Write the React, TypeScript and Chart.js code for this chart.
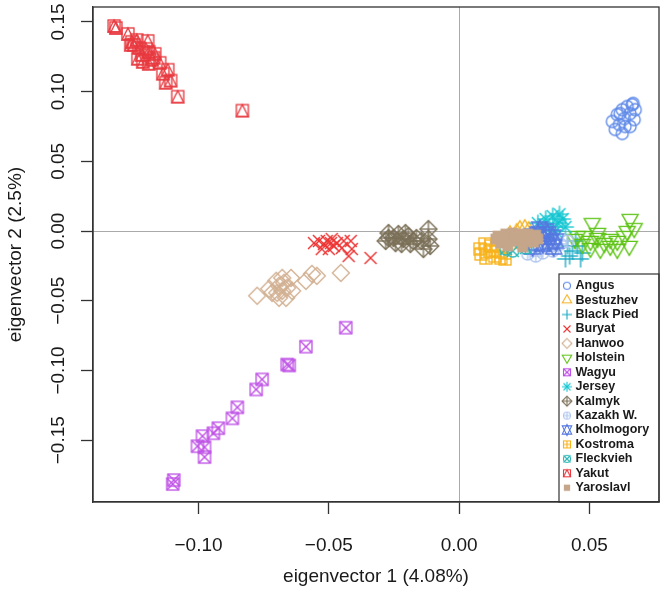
import React, { useEffect, useRef } from 'react';
import { Chart, registerables } from 'chart.js';

Chart.register(...registerables);

const FONT = '"Liberation Sans", Arial, Helvetica, sans-serif';

const breeds = ['Angus', 'Bestuzhev', 'Black Pied', 'Buryat', 'Hanwoo', 'Holstein', 'Wagyu', 'Jersey', 'Kalmyk', 'Kazakh W.', 'Kholmogory', 'Kostroma', 'Fleckvieh', 'Yakut', 'Yaroslavl'];
const breedColors = ['#5f8ae8', '#f5b324', '#1aa9c4', '#ee3535', '#d2b092', '#5ec415', '#bf52e6', '#12c6d1', '#7b7058', '#b0c6ef', '#5578e0', '#f8b31c', '#2db7b7', '#e83a40', '#c6a68a'];
const breedPch = [1, 2, 3, 4, 5, 6, 7, 8, 9, 10, 11, 12, 13, 14, 15];

const xTicks = [-0.1, -0.05, 0, 0.05];
const yTicks = [-0.15, -0.1, -0.05, 0, 0.05, 0.1, 0.15];
const xRange = [-0.1405, 0.0767];
const yRange = [-0.1943, 0.1607];
const xTitle = 'eigenvector 1 (4.08%)';
const yTitle = 'eigenvector 2 (2.5%)';

const angus = [[0.0588, 0.0786], [0.0607, 0.0836], [0.0626, 0.0871], [0.0645, 0.0893], [0.0664, 0.0907], [0.0656, 0.0843], [0.0634, 0.0807], [0.0615, 0.0764], [0.0599, 0.0729], [0.0626, 0.07], [0.0656, 0.075], [0.0672, 0.08], [0.0676, 0.0871], [0.0637, 0.075], [0.0618, 0.0843], [0.0668, 0.0915]];
const bestuzhev = [[0.0233, 0.0007], [0.0252, 0.0014], [0.0221, -0.0014], [0.0267, 0.0], [0.021, -0.005], [0.028, -0.006], [0.0245, -0.009], [0.0195, -0.003]];
const blackPied = [[0.0416, -0.0107], [0.0435, -0.0143], [0.0454, -0.0107], [0.0424, -0.0179], [0.0473, -0.0157], [0.0447, -0.0071], [0.0408, -0.02], [0.0466, -0.02]];
const buryat = [[-0.0557, -0.0086], [-0.0538, -0.0071], [-0.0519, -0.0093], [-0.0508, -0.0071], [-0.0492, -0.0086], [-0.0481, -0.0107], [-0.0469, -0.0086], [-0.05, -0.0129], [-0.0527, -0.0129], [-0.0443, -0.0071], [-0.0416, -0.0071], [-0.0412, -0.0129], [-0.0424, -0.0179], [-0.045, -0.0121], [-0.0489, -0.0057], [-0.034, -0.0193]];
const hanwoo = [[-0.0775, -0.0464], [-0.0729, -0.0414], [-0.0702, -0.0357], [-0.0691, -0.0393], [-0.0679, -0.0429], [-0.066, -0.0407], [-0.0645, -0.0336], [-0.0664, -0.0479], [-0.0691, -0.0479], [-0.0698, -0.0443], [-0.0672, -0.0371], [-0.0588, -0.0357], [-0.0565, -0.0307], [-0.0546, -0.0321], [-0.0454, -0.03], [-0.0718, -0.0443], [-0.0641, -0.0429], [-0.0679, -0.0336]];
const holstein = [[0.0511, 0.0057], [0.0656, 0.0086], [0.0672, 0.0021], [0.0645, 0.0], [0.0634, -0.0036], [0.0607, -0.0071], [0.0653, -0.0107], [0.0607, -0.0129], [0.0557, -0.0086], [0.058, -0.0057], [0.0531, -0.005], [0.0504, -0.0071], [0.0481, -0.0036], [0.0454, -0.0036], [0.0443, -0.0057], [0.0504, -0.0121], [0.0542, -0.0129], [0.058, -0.0107], [0.0473, -0.0093], [0.0531, -0.0014]];
const wagyu = [[-0.1095, -0.1786], [-0.1099, -0.1814], [-0.066, -0.0957], [-0.0652, -0.0964], [-0.0756, -0.1064], [-0.0779, -0.1136], [-0.0851, -0.1264], [-0.087, -0.1343], [-0.0924, -0.1414], [-0.0943, -0.145], [-0.0985, -0.1471], [-0.1004, -0.1543], [-0.0977, -0.155], [-0.0977, -0.1621], [-0.0435, -0.0693], [-0.0588, -0.0829]];
const jersey = [[0.0302, 0.0057], [0.0332, 0.0086], [0.0359, 0.0107], [0.0378, 0.0057], [0.0397, 0.0086], [0.0347, 0.0036], [0.0321, 0.0014], [0.0408, 0.0029], [0.037, 0.0], [0.0385, 0.0121]];
const kalmyk = [[-0.0271, -0.0014], [-0.0252, -0.005], [-0.0233, -0.0021], [-0.0214, -0.0057], [-0.0195, -0.0036], [-0.0176, -0.0071], [-0.0282, -0.0071], [-0.0244, -0.0086], [-0.0221, -0.0093], [-0.0187, -0.0093], [-0.0164, -0.005], [-0.0145, -0.0071], [-0.0118, 0.0014], [-0.0118, -0.0057], [-0.0111, -0.0107], [-0.0137, -0.0129], [-0.0271, -0.005], [-0.0206, -0.0014]];
const kazakhW = [[0.0263, -0.0164], [0.0294, -0.0179], [0.0321, -0.0157], [0.0389, -0.0093], [0.0416, -0.0071], [0.0359, -0.0143]];
const kholmogory = [[0.0282, -0.0036], [0.0302, -0.0021], [0.0321, -0.0043], [0.034, -0.0021], [0.0359, -0.0043], [0.0294, -0.0086], [0.0321, -0.0093], [0.0347, -0.0079], [0.037, -0.0071], [0.0309, 0.0014], [0.0332, 0.0], [0.0282, -0.0114], [0.0363, -0.0114]];
const kostroma = [[0.008, -0.0129], [0.0099, -0.0093], [0.0084, -0.0164], [0.0118, -0.0143], [0.0137, -0.0179], [0.016, -0.0193], [0.0122, -0.0107], [0.0149, -0.0143], [0.0103, -0.0193], [0.0176, -0.02]];
const fleckvieh = [[0.0179, -0.0129], [0.0256, -0.0121], [0.0206, -0.0143]];
const yakut = [[-0.1324, 0.1471], [-0.1317, 0.1457], [-0.1271, 0.1414], [-0.1256, 0.1357], [-0.126, 0.1336], [-0.1248, 0.1336], [-0.1237, 0.1371], [-0.1229, 0.1314], [-0.1195, 0.1364], [-0.1202, 0.1307], [-0.1191, 0.1286], [-0.1233, 0.1236], [-0.1218, 0.1264], [-0.1168, 0.1271], [-0.1179, 0.1229], [-0.1214, 0.1214], [-0.1191, 0.12], [-0.1149, 0.1207], [-0.1172, 0.1243], [-0.1137, 0.1129], [-0.1118, 0.1157], [-0.1126, 0.1064], [-0.1107, 0.1079], [-0.108, 0.0964], [-0.0832, 0.0864]];
const yaroslavl = [[0.0149, -0.0036], [0.0179, -0.0021], [0.0206, -0.0014], [0.0233, -0.0021], [0.0263, -0.0021], [0.0294, -0.0029], [0.016, -0.0086], [0.0195, -0.0071], [0.0225, -0.0071], [0.0256, -0.0071], [0.0286, -0.0079], [0.0141, -0.0057], [0.0187, -0.0107], [0.0244, -0.0114], [0.0302, -0.0057], [0.0218, -0.0043], [0.0172, -0.005], [0.0271, -0.005]];

const breedPoints = [angus, bestuzhev, blackPied, buryat, hanwoo, holstein, wagyu, jersey, kalmyk, kazakhW, kholmogory, kostroma, fleckvieh, yakut, yaroslavl];

function fmt(v: number): string {
  if (Math.abs(v) < 1e-9) return '0.00';
  return (v < 0 ? '\u2212' : '') + Math.abs(v).toFixed(2);
}

function makeSymbol(pch: number, color: string, R: number, lw: number): HTMLCanvasElement {
  const s = 2 * Math.ceil(R * 2 + 3);
  const c = document.createElement('canvas');
  c.width = s;
  c.height = s;
  const g = c.getContext('2d') as CanvasRenderingContext2D;
  g.translate(s / 2, s / 2);
  g.strokeStyle = color;
  g.fillStyle = color;
  g.lineWidth = lw;
  g.lineJoin = 'miter';
  const line = (x1: number, y1: number, x2: number, y2: number) => {
    g.beginPath();
    g.moveTo(x1, y1);
    g.lineTo(x2, y2);
    g.stroke();
  };
  const poly = (pts: number[][]) => {
    g.beginPath();
    g.moveTo(pts[0][0], pts[0][1]);
    for (let i = 1; i < pts.length; i++) g.lineTo(pts[i][0], pts[i][1]);
    g.closePath();
    g.stroke();
  };
  const circle = (r: number) => {
    g.beginPath();
    g.arc(0, 0, r, 0, Math.PI * 2);
    g.stroke();
  };
  const sq = (h: number) => g.strokeRect(-h, -h, 2 * h, 2 * h);
  const plus = (h: number) => {
    line(-h, 0, h, 0);
    line(0, -h, 0, h);
  };
  const times = (h: number) => {
    line(-h, -h, h, h);
    line(-h, h, h, -h);
  };
  const r = 1.5551203 * R;
  const yc = 0.77756015 * R;
  const xc = 1.34677368 * R;
  const s2 = Math.SQRT2 * R;
  switch (pch) {
    case 1: circle(R); break;
    case 2: poly([[0, -r], [xc, yc], [-xc, yc]]); break;
    case 3: plus(s2); break;
    case 4: times(R); break;
    case 5: poly([[0, -s2], [s2, 0], [0, s2], [-s2, 0]]); break;
    case 6: poly([[0, r], [xc, -yc], [-xc, -yc]]); break;
    case 7: sq(R); times(R); break;
    case 8: times(R); plus(s2); break;
    case 9: poly([[0, -s2], [s2, 0], [0, s2], [-s2, 0]]); plus(s2); break;
    case 10: circle(R); plus(R); break;
    case 11: {
      const y2 = 0.5 * (yc + r);
      poly([[0, -r], [xc, y2], [-xc, y2]]);
      poly([[0, r], [xc, -y2], [-xc, -y2]]);
      break;
    }
    case 12: sq(R); plus(R); break;
    case 13: circle(R); times(R); break;
    case 14: sq(R); poly([[0, -R], [R, R], [-R, R]]); break;
    case 15: g.fillRect(-R * 0.9, -R * 0.9, 1.8 * R, 1.8 * R); break;
  }
  return c;
}

export default function App() {
  const ref = useRef<HTMLCanvasElement>(null);

  useEffect(() => {
    const canvas = ref.current as HTMLCanvasElement;
    const plotSyms = breedPch.map((p, i) => makeSymbol(p, breedColors[i], 6, 1.35));
    const legSyms = breedPch.map((p, i) => makeSymbol(p, breedColors[i], 3.5, 1.1));

    const datasets = breeds.map((b, i) => ({
      label: b,
      data: breedPoints[i].map(([x, y]) => ({ x, y })),
      pointStyle: plotSyms[i],
      pointRadius: 6,
      pointHoverRadius: 6,
      order: breeds.length - i,
      showLine: false,
    }));

    const framePlugin = {
      id: 'frame',
      afterDatasetsDraw(chart: any) {
        const { ctx, chartArea: ca } = chart;
        ctx.save();
        ctx.strokeStyle = '#333';
        ctx.lineWidth = 1.3;
        ctx.strokeRect(ca.left, ca.top, ca.right - ca.left, ca.bottom - ca.top);
        ctx.restore();
      },
    };

    const yLabelPlugin = {
      id: 'yLabels',
      afterDraw(chart: any) {
        const { ctx } = chart;
        const sc = chart.scales.y;
        ctx.save();
        ctx.fillStyle = '#1a1a1a';
        ctx.font = `19px ${FONT}`;
        ctx.textAlign = 'center';
        ctx.textBaseline = 'middle';
        sc.ticks.forEach((t: any) => {
          const py = sc.getPixelForValue(t.value);
          ctx.save();
          ctx.translate(sc.right - 34, py);
          ctx.rotate(-Math.PI / 2);
          ctx.fillText(fmt(t.value), 0, 0);
          ctx.restore();
        });
        ctx.restore();
      },
    };

    const legendPlugin = {
      id: 'rLegend',
      afterDraw(chart: any) {
        const { ctx, chartArea: ca } = chart;
        const w = 100;
        const h = 228;
        const lx = ca.right - w;
        const ly = ca.bottom - h;
        ctx.save();
        ctx.strokeStyle = '#333';
        ctx.lineWidth = 1.2;
        ctx.strokeRect(lx, ly, w, h);
        ctx.font = `bold 12.5px ${FONT}`;
        ctx.fillStyle = '#1a1a1a';
        ctx.textAlign = 'left';
        ctx.textBaseline = 'middle';
        breeds.forEach((b, i) => {
          const yy = ly + 11.7 + i * 14.43;
          const sym = legSyms[i];
          ctx.drawImage(sym, lx + 8 - sym.width / 2, yy - sym.height / 2);
          ctx.fillText(b, lx + 16.5, yy);
        });
        ctx.restore();
      },
    };

    const chart = new Chart(canvas, {
      type: 'scatter',
      data: { datasets: datasets as any },
      options: {
        responsive: false,
        animation: false,
        devicePixelRatio: 1,
        layout: { padding: { left: 0, top: 5, right: 4, bottom: 0 } },
        plugins: { legend: { display: false }, tooltip: { enabled: false } },
        events: [],
        scales: {
          x: {
            type: 'linear',
            position: 'bottom',
            min: xRange[0],
            max: xRange[1],
            afterBuildTicks: (s: any) => {
              s.ticks = xTicks.map((v) => ({ value: v }));
            },
            afterFit: (s: any) => {
              s.height = 99;
            },
            grid: {
              drawOnChartArea: true,
              drawTicks: true,
              tickLength: 12,
              color: (c: any) => (c.tick && Math.abs(c.tick.value) < 1e-9 ? '#aaaaaa' : 'rgba(0,0,0,0)'),
              tickColor: '#333',
              lineWidth: 1,
              tickWidth: 1.3,
            },
            border: { display: true, color: '#333', width: 1.3 },
            ticks: {
              display: true,
              autoSkip: false,
              maxRotation: 0,
              minRotation: 0,
              padding: 20,
              color: '#1a1a1a',
              font: { family: FONT, size: 19 },
              callback: (v: any) => fmt(Number(v)),
            },
            title: {
              display: true,
              text: xTitle,
              color: '#1a1a1a',
              font: { family: FONT, size: 19 },
              padding: { top: 0, bottom: 12.6 },
            },
          },
          y: {
            type: 'linear',
            position: 'left',
            min: yRange[0],
            max: yRange[1],
            afterBuildTicks: (s: any) => {
              s.ticks = yTicks.map((v) => ({ value: v }));
            },
            afterFit: (s: any) => {
              s.width = 93;
            },
            grid: {
              drawOnChartArea: true,
              drawTicks: true,
              tickLength: 12,
              color: (c: any) => (c.tick && Math.abs(c.tick.value) < 1e-9 ? '#aaaaaa' : 'rgba(0,0,0,0)'),
              tickColor: '#333',
              lineWidth: 1,
              tickWidth: 1.3,
            },
            border: { display: true, color: '#333', width: 1.3 },
            ticks: { display: false },
            title: {
              display: true,
              text: yTitle,
              color: '#1a1a1a',
              font: { family: FONT, size: 19 },
              padding: { top: 4.6, bottom: 0 },
            },
          },
        },
      } as any,
      plugins: [framePlugin, yLabelPlugin, legendPlugin],
    });

    return () => chart.destroy();
  }, []);

  return (
    <div style={{ position: 'absolute', left: 0, top: 0, width: 666, height: 601, background: '#fff' }}>
      <canvas ref={ref} width={666} height={601} style={{ display: 'block', width: 666, height: 601 }} />
    </div>
  );
}
